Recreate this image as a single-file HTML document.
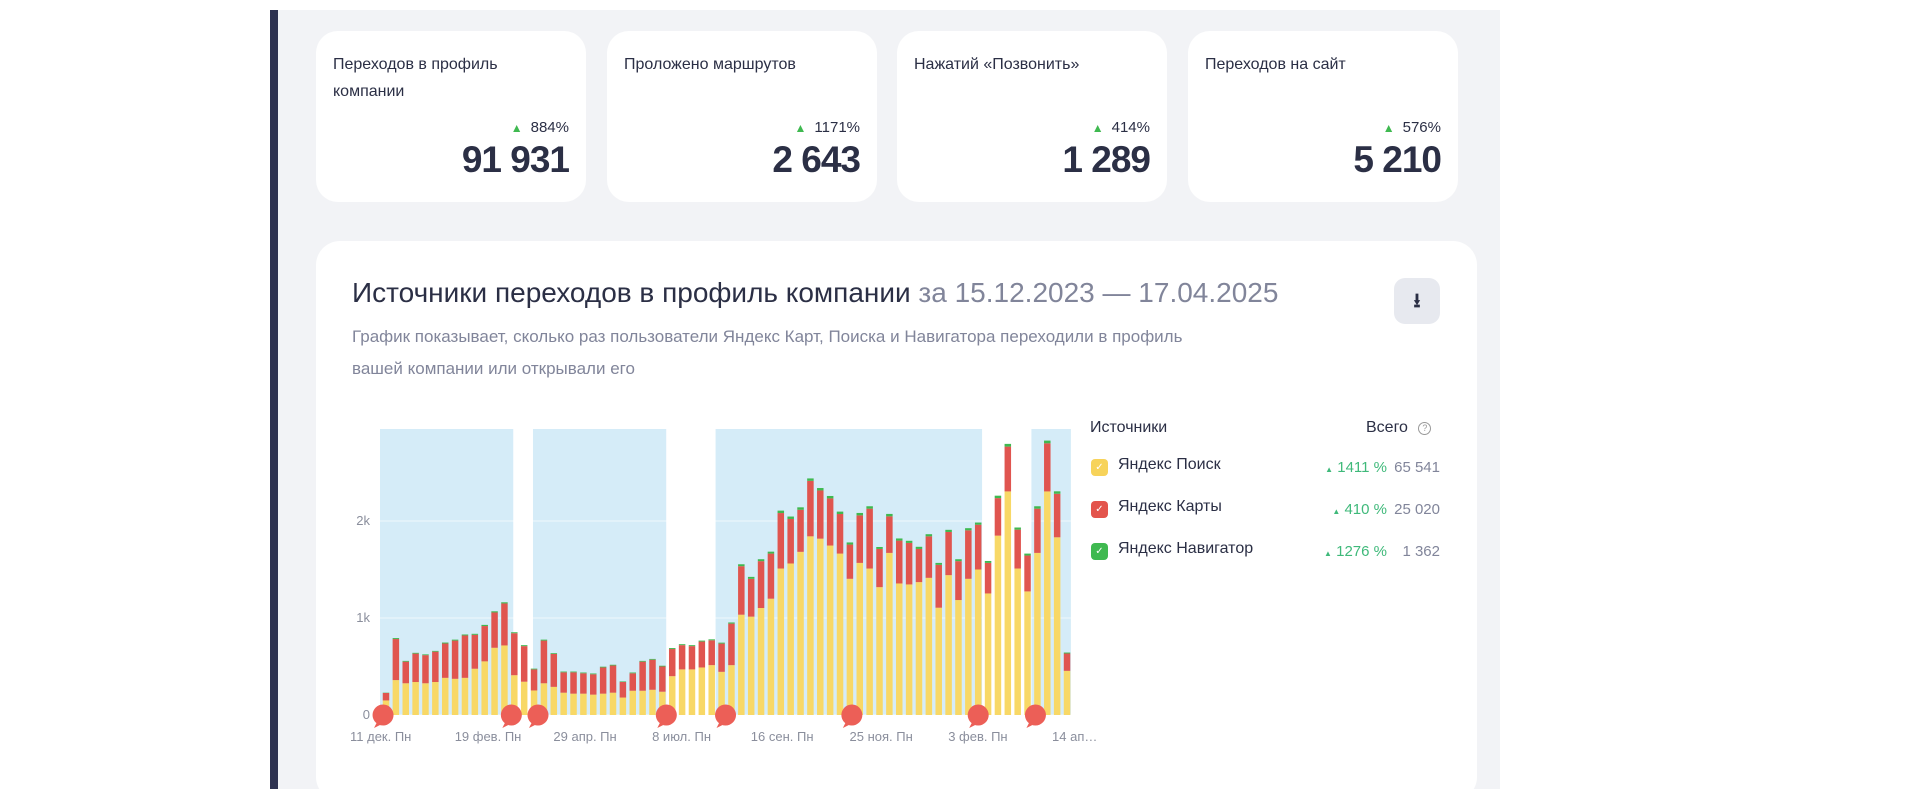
<!DOCTYPE html>
<html><head><meta charset="utf-8">
<style>
*{box-sizing:border-box;margin:0;padding:0}
body{width:1919px;height:789px;background:#fff;font-family:"Liberation Sans","DejaVu Sans",sans-serif;overflow:hidden;position:relative;color:#21243a}
#panel{position:absolute;left:270px;top:10px;width:1230px;height:779px;background:#f2f3f6}
#stripe{position:absolute;left:270px;top:10px;width:8px;height:779px;background:#2e3250}
.card{position:absolute;top:31px;width:270px;height:171px;background:#fff;border-radius:22px}
.card .t{position:absolute;left:17px;top:20px;font-size:16px;line-height:27px;color:#2b2f45;width:215px}
.card .p{position:absolute;right:17px;top:88px;font-size:15px;color:#2b2f45}
.card .p span{color:#3fb950;font-size:12px;margin-right:8px}
.card .v{position:absolute;right:17px;top:108px;font-size:37px;font-weight:bold;color:#2b2f45;letter-spacing:-1px}
#big{position:absolute;left:316px;top:241px;width:1161px;height:560px;background:#fff;border-radius:24px}
#title{position:absolute;left:36px;top:36px;font-size:28px;color:#2b2f45;white-space:nowrap}
#title span{color:#81859a}
#sub{position:absolute;left:36px;top:80px;font-size:17px;line-height:32px;color:#81859a;width:870px}
#dl{position:absolute;left:1078px;top:37px;width:46px;height:46px;background:#e7e9ef;border-radius:11px;text-align:center;line-height:46px;font-size:20px;font-weight:bold;color:#2b2f45}
.lg{position:absolute;font-size:16px;color:#2b2f45;white-space:nowrap}
.cb{position:absolute;width:17px;height:17px;border-radius:4px;color:#fff;font-size:10px;text-align:center;line-height:17px}
.pc{position:absolute;font-size:15px;color:#3fb97a;text-align:right;white-space:nowrap}
.tv{position:absolute;font-size:15px;color:#81859a;text-align:right;white-space:nowrap}
</style></head><body>
<div id="panel"></div>
<div id="stripe"></div>

<div class="card" style="left:316px"><div class="t">Переходов в профиль компании</div><div class="p"><span>▲</span>884%</div><div class="v">91 931</div></div>
<div class="card" style="left:607px"><div class="t">Проложено маршрутов</div><div class="p"><span>▲</span>1171%</div><div class="v">2 643</div></div>
<div class="card" style="left:897px"><div class="t">Нажатий «Позвонить»</div><div class="p"><span>▲</span>414%</div><div class="v">1 289</div></div>
<div class="card" style="left:1188px"><div class="t">Переходов на сайт</div><div class="p"><span>▲</span>576%</div><div class="v">5 210</div></div>

<div id="big">
<div id="title">Источники переходов в профиль компании <span>за 15.12.2023 — 17.04.2025</span></div>
<div id="sub">График показывает, сколько раз пользователи Яндекс Карт, Поиска и Навигатора переходили в профиль вашей компании или открывали его</div>
<div id="dl">⭳</div>
<div class="lg" style="left:774px;top:178px">Источники</div>
<div class="lg" style="left:1050px;top:178px">Всего <span style="display:inline-block;width:13px;height:13px;border:1px solid #999;border-radius:50%;font-size:9px;text-align:center;line-height:11px;color:#999;margin-left:6px;vertical-align:1px">?</span></div>

<div class="cb" style="left:775px;top:218px;background:#f7d35a">✓</div>
<div class="lg" style="left:802px;top:215px">Яндекс Поиск</div>
<div class="pc" style="right:90px;top:218px"><span style="font-size:8px">▲</span> 1411 %</div>
<div class="tv" style="right:37px;top:218px">65 541</div>

<div class="cb" style="left:775px;top:260px;background:#e3544c">✓</div>
<div class="lg" style="left:802px;top:257px">Яндекс Карты</div>
<div class="pc" style="right:90px;top:260px"><span style="font-size:8px">▲</span> 410 %</div>
<div class="tv" style="right:37px;top:260px">25 020</div>

<div class="cb" style="left:775px;top:302px;background:#3fb950">✓</div>
<div class="lg" style="left:802px;top:299px">Яндекс Навигатор</div>
<div class="pc" style="right:90px;top:302px"><span style="font-size:8px">▲</span> 1276 %</div>
<div class="tv" style="right:37px;top:302px">1 362</div>
</div>

<svg id="chart" width="1919" height="789" style="position:absolute;left:0;top:0"></svg>

<script>
const searchVals=[150,360,327,340,327,340,383,373,383,477,553,693,717,410,343,253,327,290,230,220,220,210,220,230,180,250,250,260,240,400,470,470,
490,514,445,514,1034,1014,1103,1199,1510,1562,1682,1842,1818,1747,1664,1404,1568,1510,1318,1671,1356,1346,1370,1414,1106,1442,1185,1404,1500,1253,1849,2305,1510,1274,1671,2305,1832,455];
const totalVals=[227,783,550,633,617,653,737,767,820,827,917,1057,1150,843,710,470,767,630,440,440,430,420,490,510,340,430,550,570,500,680,720,710,
757,770,736,942,1534,1404,1586,1664,2082,2021,2116,2414,2315,2233,2072,1757,2058,2127,1712,2048,1798,1774,1712,1842,1548,1887,1586,1904,1962,1568,2236,2767,1911,1644,2127,2801,2281,634];
const navVals=[3,10,8,8,8,8,10,10,10,10,12,12,12,10,10,8,10,8,8,8,8,8,8,8,6,8,8,8,8,10,10,10,
10,10,10,12,20,20,20,20,25,25,25,25,25,25,25,22,25,25,20,25,22,22,22,22,20,22,20,22,22,20,25,28,22,20,25,28,25,10];
const yTicks=[0,1000,2000];
const yTickLabels=["0","1k","2k"];
const xLabelIdx=[0,10,20,30,40,50,60,69];
const xLabels=["11 дек. Пн","19 фев. Пн","29 апр. Пн","8 июл. Пн","16 сен. Пн","25 ноя. Пн","3 фев. Пн","14 ап…"];
const shadeRanges=[[0,13.5],[15.5,29],[34,61],[66,70]];
const markerIdx=[-0.3,12.7,15.4,28.4,34.4,47.2,60,65.8];

const svg=document.getElementById('chart');
const NS='http://www.w3.org/2000/svg';
const x0=386,step=9.87,y0=715,pxPerK=97,plotTop=429;
const X=i=>x0+i*step;
const Y=v=>y0-v*pxPerK/1000;
function mk(tag,attrs){const e=document.createElementNS(NS,tag);for(const k in attrs)e.setAttribute(k,attrs[k]);svg.appendChild(e);return e;}

shadeRanges.forEach(r=>{
  const e=mk('rect',{x:X(r[0])-6,y:plotTop,width:(r[1]-r[0])*step,height:y0-plotTop,fill:'#d5ecf8'});
  
  
});
yTicks.forEach((t,i)=>{
  const l=mk('line',{x1:380,x2:1072,y1:Y(t),y2:Y(t),stroke:'#ffffff','stroke-opacity':0.6,'stroke-width':1});
  
  
  const tx=mk('text',{x:370,y:Y(t)+4,'text-anchor':'end','font-size':13,fill:'#8a8e9c','font-family':'Liberation Sans, sans-serif'});
  tx.textContent=yTickLabels[i];
  
  
});
const bw=6.5;
searchVals.forEach((s,i)=>{
  const t=totalVals[i], n=navVals[i];
  const b1=mk('rect',{x:X(i)-bw/2,y:Y(s),width:bw,height:y0-Y(s),fill:'#f8d866'});
  
  
  const b2=mk('rect',{x:X(i)-bw/2,y:Y(t),width:bw,height:Y(s)-Y(t),fill:'#e0554f'});
  
  
  const b3=mk('rect',{x:X(i)-bw/2,y:Y(t+n),width:bw,height:Y(t)-Y(t+n),fill:'#3fb950'});
  
  
});
markerIdx.forEach(m=>{
  const cx=X(m), cy=y0;
  const p=mk('path',{d:`M${cx-6} ${cy+7} L${cx-9} ${cy+13} L${cx-1} ${cy+9} Z`,fill:'#ec5f57'});
  
  
  const c=mk('circle',{cx:cx,cy:cy,r:10.5,fill:'#ec5f57'});
  
  
});
xLabelIdx.forEach((idx,i)=>{
  const tx=mk('text',{x:X(idx)-(i==0?36:i==7?15:30),y:741,'font-size':13,fill:'#8a8e9c','font-family':'Liberation Sans, sans-serif'});
  tx.textContent=xLabels[i];
  
  
});
</script>
</body></html>
